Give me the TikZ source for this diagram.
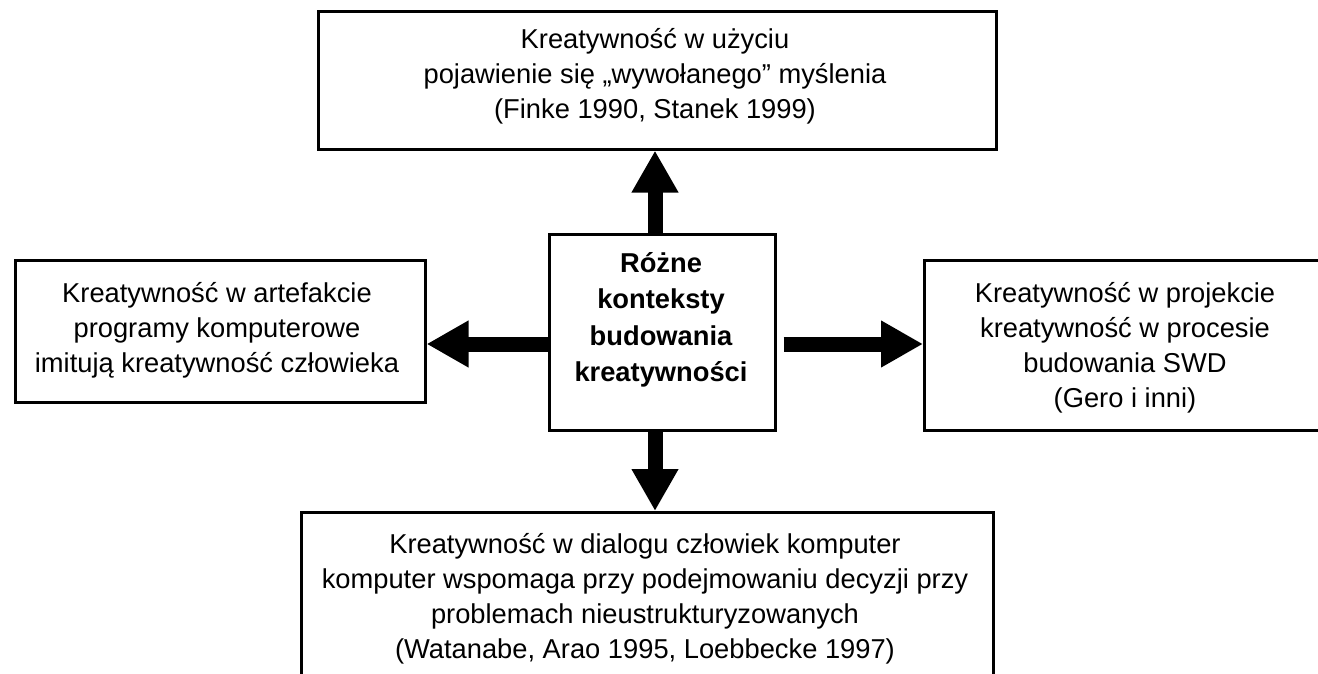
\documentclass[tikz,border=0pt]{standalone}
\usepackage{fontspec}
\setmainfont{Liberation Sans}
\usetikzlibrary{arrows.meta}
\newcommand{\fstrut}{\rule{0pt}{24pt}}
\begin{document}
\begin{tikzpicture}[x=1pt,y=-1pt,
  boxnode/.style={draw=black, line width=2.6pt, fill=white, inner sep=0pt, anchor=north west},
  txt/.style={inner sep=0pt, anchor=north, align=center, font=\fontsize{27.3}{35}\selectfont},
  boldtxt/.style={txt, font=\fontsize{27.3}{36.5}\selectfont\bfseries},
  bigarrow/.style={draw=black, line width=15pt, -{Triangle[length=42pt,width=44pt]}}]
\useasboundingbox (0,0) rectangle (1318,674);
\clip (0,0) rectangle (1318,674);
\fill[white] (0,0) rectangle (1318,674);
% boxes
\node[boxnode, minimum width=678, minimum height=138] (t) at (317,10) {};
\node[boxnode, minimum width=226, minimum height=196] (c) at (548,233) {};
\node[boxnode, minimum width=410, minimum height=142] (l) at (14,259) {};
\node[boxnode, minimum width=404, minimum height=170] (r) at (923,259) {};
\node[boxnode, minimum width=692, minimum height=175] (b) at (300,511) {};
% texts
\node[txt] (tt) at (655,24) {\fstrut Kreatywność w użyciu\\pojawienie się „wywołanego” myślenia\\(Finke 1990, Stanek 1999)};
\node[boldtxt] (ct) at (661,248) {\fstrut Różne\\konteksty\\budowania\\kreatywności};
\node[txt] (lt) at (217,278) {\fstrut Kreatywność w artefakcie\\programy komputerowe\\imitują kreatywność człowieka};
\node[txt] (rt) at (1125,278) {\fstrut Kreatywność w projekcie\\kreatywność w procesie\\budowania SWD\\(Gero i inni)};
\node[txt] (bt) at (645,529) {\fstrut Kreatywność w dialogu człowiek komputer\\komputer wspomaga przy podejmowaniu decyzji przy\\problemach nieustrukturyzowanych\\(Watanabe, Arao 1995, Loebbecke 1997)};
% arrows
\coordinate (ax) at (655,0);
\coordinate (ay) at (0,344);
\draw[bigarrow] (ax |- c.north) -- (ax |- t.south);
\draw[bigarrow] (ax |- c.south) -- (ax |- b.north);
\draw[bigarrow] (c.west |- ay) -- (l.east |- ay);
\draw[bigarrow, shorten <=7pt] (c.east |- ay) -- (r.west |- ay);
\end{tikzpicture}
\end{document}
